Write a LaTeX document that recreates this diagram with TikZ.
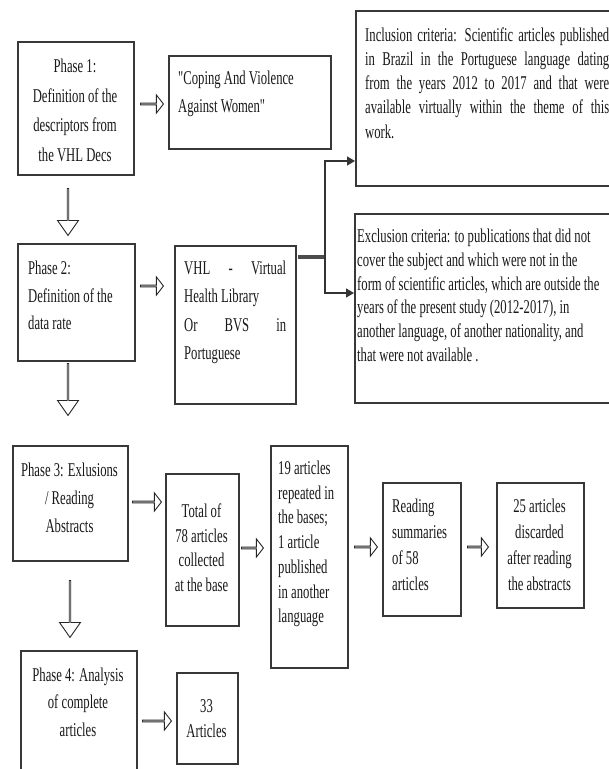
\documentclass[tikz,border=0pt]{standalone}
\usepackage{fontspec}
\usepackage{graphicx}
\setmainfont{Liberation Serif}[Ligatures=TeXOff]
\usetikzlibrary{shapes.arrows,arrows.meta}
\newcommand{\sx}{0.65}
% #1 width (unscaled pt), #2 alignment, #3 baselineskip, #4 text
\newcommand{\tb}[4]{\scalebox{\sx}[1]{\begin{minipage}[t]{#1pt}#2\fontsize{19.5pt}{#3pt}\selectfont #4\end{minipage}}}
\tikzset{
  box/.style={draw=black!78, line width=1.5pt, inner sep=0pt, anchor=north west},
  txt/.style={inner sep=0pt, text=black!90},
  rarr/.style={single arrow, draw=black!85, line width=0.9pt, inner sep=0pt,
    minimum width=18pt, single arrow head extend=4.5pt, single arrow tip angle=104, anchor=tail},
  darr/.style={single arrow, draw=black!85, line width=0.9pt, inner sep=0pt,
    minimum width=21pt, single arrow head extend=5.5pt, single arrow tip angle=70,
    shape border rotate=270, anchor=tail},
  conn/.style={draw=black!80, line width=1.2pt},
  tipconn/.style={conn, -{Triangle[length=8pt,width=9pt]}},
}
\begin{document}
\begin{tikzpicture}[x=1pt,y=-1pt]
\useasboundingbox (0,0) rectangle (609,769);
\clip (0,0) rectangle (609,769);
\fill[white] (0,0) rectangle (609,769);

% boxes
\node[box, minimum width=116pt, minimum height=133pt] (p1) at (17,41) {};
\node[box, minimum width=162pt, minimum height=93pt] (cop) at (168,55) {};
\node[box, minimum width=262pt, minimum height=175pt] (inc) at (355,10) {};
\node[box, minimum width=117pt, minimum height=117pt] (p2) at (17,243) {};
\node[box, minimum width=121pt, minimum height=158pt] (vhl) at (174,245) {};
\node[box, minimum width=262pt, minimum height=189pt] (exc) at (354,213) {};
\node[box, minimum width=115pt, minimum height=115pt] (p3) at (12,445) {};
\node[box, minimum width=73pt, minimum height=152pt] (tot) at (165,473) {};
\node[box, minimum width=77pt, minimum height=222pt] (a19) at (270,445) {};
\node[box, minimum width=78pt, minimum height=133pt] (rd) at (382,482) {};
\node[box, minimum width=87pt, minimum height=125pt] (d25) at (496,482) {};
\node[box, minimum width=116pt, minimum height=135pt] (p4) at (20,650) {};
\node[box, minimum width=61pt, minimum height=91pt] (a33) at (176,672) {};

% texts
\node[txt, anchor=base] (p1t) at (75,72.8)
  {\tb{175}{\centering}{29.5}{Phase 1:\\Definition of the\\descriptors from\\the VHL Decs}};
\node[txt, anchor=base west] (copt) at (178,84.5)
  {\tb{230}{\raggedright}{28.3}{"Coping And Violence\\Against Women"}};
\node[txt, anchor=base west] (inct) at (365,41.2)
  {\tb{375.4}{}{24.2}{Inclusion criteria: Scientific articles published\linebreak
   in Brazil in the Portuguese language dating\linebreak
   from the years 2012 to 2017 and that were\linebreak
   available virtually within the theme of this\linebreak
   work.}};
\node[txt, anchor=base west] (p2t) at (28,274.5)
  {\tb{160}{\raggedright}{27.5}{Phase 2:\\Definition of the\\data rate}};
\node[txt, anchor=base west] (vhlt) at (184,274.5)
  {\tb{156.9}{}{28.3}{VHL - Virtual\linebreak Health Library\par Or BVS in\linebreak Portuguese}};
\node[txt, anchor=base west] (exct) at (357,242.8)
  {\tb{390}{\raggedright}{23.7}{Exclusion criteria: to publications that did not\\
   cover the subject and which were not in the\\
   form of scientific articles, which are outside the\\
   years of the present study (2012-2017), in\\
   another language, of another nationality, and\\
   that were not available .}};
\node[txt, anchor=base] (p3t) at (69.5,476.2)
  {\tb{172}{\centering}{28.3}{Phase 3: Exlusions\\/ Reading\\Abstracts}};
\node[txt, anchor=base] (tott) at (201.5,517.8)
  {\tb{110}{\centering}{24.4}{Total of\\78 articles\\collected\\at the base}};
\node[txt, anchor=base west] (a19t) at (278,474.5)
  {\tb{105}{\raggedright}{24.7}{19 articles\\repeated in\\the bases;\\1 article\\published\\in another\\language}};
\node[txt, anchor=base west] (rdt) at (392,512.8)
  {\tb{100}{\raggedright}{26}{Reading\\summaries\\of 58\\articles}};
\node[txt, anchor=base] (d25t) at (539.5,512.8)
  {\tb{132}{\centering}{26}{25 articles\\discarded\\after reading\\the abstracts}};
\node[txt, anchor=base] (p4t) at (78,681.2)
  {\tb{175}{\centering}{27.5}{Phase 4: Analysis\\of complete\\articles}};
\node[txt, anchor=base] (a33t) at (206.5,712.8)
  {\tb{92}{\centering}{25}{33\\Articles}};

% hollow arrows
\node[rarr, minimum height=23pt] (h1) at (140,104) {};
\node[rarr, minimum height=23pt] (h2) at (140,286) {};
\node[rarr, minimum height=29pt] (h3) at (132,502) {};
\node[rarr, minimum height=22pt] (h4) at (241,548) {};
\node[rarr, minimum height=23pt] (h5) at (354,547) {};
\node[rarr, minimum height=21pt] (h6) at (467,547) {};
\node[rarr, minimum height=29pt] (h7) at (142,721) {};
\node[darr, minimum height=47pt] (v1) at (68,188) {};
\node[darr, minimum height=52pt] (v2) at (68,363) {};
\node[darr, minimum height=57pt] (v3) at (70,580) {};

% branching connector
\coordinate (vo) at (298,257);
\coordinate (jn) at (325,257);
\coordinate (ji) at (325,161);
\coordinate (je) at (325,293);
\draw[draw=black!70, line width=3.5pt] (vo) -- (jn);
\draw[tipconn] (jn) -- (ji) -- (inc.west |- ji);
\draw[tipconn] (jn) -- (je) -- (exc.west |- je);
\end{tikzpicture}
\end{document}
